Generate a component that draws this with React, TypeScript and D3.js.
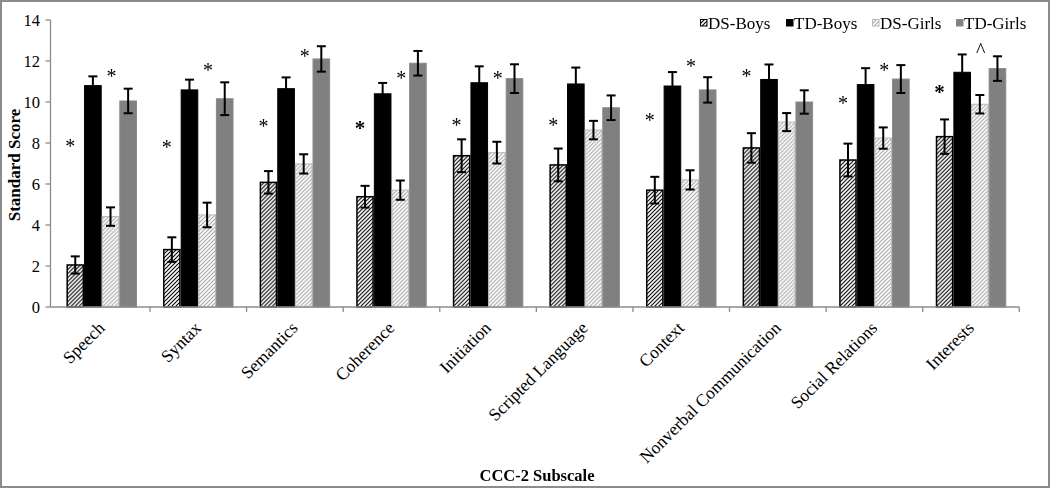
import React from "react";
import * as d3 from "d3";

const categories = [
  "Speech",
  "Syntax",
  "Semantics",
  "Coherence",
  "Initiation",
  "Scripted Language",
  "Context",
  "Nonverbal Communication",
  "Social Relations",
  "Interests",
];

const seriesNames = ["DS-Boys", "TD-Boys", "DS-Girls", "TD-Girls"];

const dsBoys = [2.05, 2.8, 6.08, 5.38, 7.38, 6.93, 5.7, 7.76, 7.17, 8.31];
const dsBoysErr = [0.42, 0.6, 0.55, 0.53, 0.8, 0.8, 0.65, 0.72, 0.8, 0.84];
const tdBoys = [10.8, 10.59, 10.65, 10.4, 10.94, 10.88, 10.78, 11.1, 10.85, 11.45];
const tdBoysErr = [0.45, 0.5, 0.55, 0.53, 0.8, 0.8, 0.68, 0.73, 0.8, 0.87];
const dsGirls = [4.41, 4.49, 6.98, 5.7, 7.53, 8.63, 6.2, 9.02, 8.24, 9.89];
const dsGirlsErr = [0.45, 0.6, 0.47, 0.47, 0.53, 0.45, 0.47, 0.44, 0.52, 0.45];
const tdGirls = [10.05, 10.16, 12.1, 11.89, 11.14, 9.72, 10.59, 10.0, 11.12, 11.63];
const tdGirlsErr = [0.6, 0.8, 0.62, 0.6, 0.7, 0.6, 0.62, 0.57, 0.68, 0.6];

const yTicks = [0, 2, 4, 6, 8, 10, 12, 14];

// significance markers: category, series they sit over, value (vertical centre), symbol, bold
const markCategory = [
  "Speech", "Speech", "Syntax", "Syntax", "Semantics", "Semantics",
  "Coherence", "Coherence", "Initiation", "Initiation", "Scripted Language",
  "Context", "Context", "Nonverbal Communication", "Social Relations",
  "Social Relations", "Interests", "Interests",
];
const markSeries = [
  "DS-Boys", "DS-Girls", "DS-Boys", "DS-Girls", "DS-Boys", "DS-Girls",
  "DS-Boys", "DS-Girls", "DS-Boys", "DS-Girls", "DS-Boys",
  "DS-Boys", "DS-Girls", "DS-Boys", "DS-Boys",
  "DS-Girls", "DS-Boys", "DS-Girls",
];
const markValue = [
  8.0, 11.41, 7.95, 11.7, 8.98, 12.39,
  8.88, 11.32, 9.02, 11.32, 9.02,
  9.27, 11.9, 11.41, 10.1,
  11.7, 10.63, 12.68,
];
const markSymbol = [
  "*", "*", "*", "*", "*", "*", "*", "*", "*", "*", "*",
  "*", "*", "*", "*", "*", "*", "^",
];
const markBold = [
  false, false, false, false, false, false,
  true, false, false, false, false,
  false, false, false, false,
  false, true, false,
];

const values = [dsBoys, tdBoys, dsGirls, tdGirls];
const errors = [dsBoysErr, tdBoysErr, dsGirlsErr, tdGirlsErr];

const W = 1050;
const H = 488;
const FONT = "'Liberation Serif', 'Times New Roman', serif";

export default function App() {
  const axisX = 50.5;
  const x0 = d3.scaleBand<string>().domain(categories).range([53.4, 1019.3]).padding(0);
  const bw = x0.bandwidth();
  const groupW = 70.5;
  const x1 = d3
    .scaleBand<string>()
    .domain(seriesNames)
    .range([(bw - groupW) / 2, (bw + groupW) / 2])
    .padding(0);
  const y = d3.scaleLinear().domain([0, 14]).range([307, 20]);
  const barW = x1.bandwidth();

  const fills: Record<string, string> = {
    "DS-Boys": "url(#hatchBlack)",
    "TD-Boys": "#000000",
    "DS-Girls": "url(#hatchGray)",
    "TD-Girls": "#808080",
  };
  const strokes: Record<string, string> = {
    "DS-Boys": "#000000",
    "TD-Boys": "#000000",
    "DS-Girls": "#b8b8b8",
    "TD-Girls": "#8a8a8a",
  };
  const strokeW: Record<string, number> = {
    "DS-Boys": 1.5,
    "TD-Boys": 1,
    "DS-Girls": 1,
    "TD-Girls": 1,
  };

  const boundaries = [53.4, ...categories.map((c) => (x0(c) as number) + bw)];

  const legendX = [700, 786, 872, 956];

  return (
    <svg
      width={W}
      height={H}
      style={{ position: "absolute", left: 0, top: 0, background: "#fff" }}
      fontFamily={FONT}
    >
      <defs>
        <pattern id="hatchBlack" patternUnits="userSpaceOnUse" width="4" height="4">
          <rect width="4" height="4" fill="#fff" />
          <path d="M-1,1 l2,-2 M0,4 l4,-4 M3,5 l2,-2" stroke="#000" strokeWidth="1.1" />
        </pattern>
        <pattern id="hatchGray" patternUnits="userSpaceOnUse" width="4" height="4">
          <rect width="4" height="4" fill="#fff" />
          <path d="M-1,1 l2,-2 M0,4 l4,-4 M3,5 l2,-2" stroke="#a6a6a6" strokeWidth="1.1" />
        </pattern>
      </defs>

      <rect x={1} y={1} width={W - 2} height={H - 2} fill="#fff" stroke="#8c8c8c" strokeWidth={2} />

      {/* y axis */}
      <line x1={axisX} x2={axisX} y1={y(14)} y2={y(0)} stroke="#8c8c8c" strokeWidth={1.3} />
      {yTicks.map((t) => (
        <g key={t}>
          <line x1={axisX - 5} x2={axisX} y1={y(t)} y2={y(t)} stroke="#8c8c8c" strokeWidth={1.3} />
          <text x={40} y={y(t)} dy="0.34em" textAnchor="end" fontSize={16.5} fill="#000">
            {t}
          </text>
        </g>
      ))}

      {/* bars */}
      {categories.map((c, i) => (
        <g key={c} transform={`translate(${x0(c)},0)`}>
          {seriesNames.map((s, k) => {
            const v = values[k][i];
            return (
              <rect
                key={s}
                x={(x1(s) as number) + strokeW[s] / 2}
                y={y(v)}
                width={barW - strokeW[s]}
                height={y(0) - y(v)}
                fill={fills[s]}
                stroke={strokes[s]}
                strokeWidth={strokeW[s]}
              />
            );
          })}
          {seriesNames.map((s, k) => {
            const v = values[k][i];
            const e = errors[k][i];
            const cx = (x1(s) as number) + barW / 2;
            return (
              <g key={s + "e"} stroke="#000" strokeWidth={2}>
                <line x1={cx} x2={cx} y1={y(v + e)} y2={y(v - e)} />
                <line x1={cx - 4.5} x2={cx + 4.5} y1={y(v + e)} y2={y(v + e)} />
                <line x1={cx - 4.5} x2={cx + 4.5} y1={y(v - e)} y2={y(v - e)} />
              </g>
            );
          })}
        </g>
      ))}

      {/* x axis */}
      <line x1={axisX} x2={boundaries[boundaries.length - 1]} y1={y(0)} y2={y(0)} stroke="#8c8c8c" strokeWidth={1.3} />
      {boundaries.slice(1).map((b, i) => (
        <line key={i} x1={b} x2={b} y1={y(0)} y2={y(0) + 5} stroke="#8c8c8c" strokeWidth={1.3} />
      ))}
      {categories.map((c) => {
        const cx = (x0(c) as number) + bw / 2;
        return (
          <text
            key={c}
            transform={`translate(${cx + 4},${329}) rotate(-45)`}
            textAnchor="end"
            fontSize={17.5}
            fill="#000"
          >
            {c}
          </text>
        );
      })}

      {/* markers */}
      <g style={{ willChange: "transform" }}>
        {markCategory.map((c, i) => {
          const s = markSeries[i];
          const dx = s === "DS-Boys" ? -5 : 1;
          const cx = (x0(c) as number) + (x1(s) as number) + barW / 2 + dx;
          const isCaret = markSymbol[i] === "^";
          return (
            <text
              key={i}
              x={cx}
              y={y(markValue[i])}
              dy={isCaret ? "0.5em" : "0.48em"}
              textAnchor="middle"
              fontSize={markBold[i] ? 21 : 20}
              fontWeight={markBold[i] ? "bold" : "normal"}
              fill="#000"
            >
              {markSymbol[i]}
            </text>
          );
        })}
      </g>

      {/* axis titles */}
      <text
        transform={`translate(20,165) rotate(-90)`}
        textAnchor="middle"
        fontSize={17}
        fontWeight="bold"
        fill="#000"
      >
        Standard Score
      </text>
      <text x={537} y={481} textAnchor="middle" fontSize={16.5} fontWeight="bold" fill="#000">
        CCC-2 Subscale
      </text>

      {/* legend */}
      {seriesNames.map((s, k) => (
        <g key={s}>
          <rect
            x={legendX[k] + 0.5}
            y={19.5}
            width={6.5}
            height={6.5}
            fill={fills[s]}
            stroke={strokes[s]}
            strokeWidth={1}
          />
          <text x={legendX[k] + 8} y={28.5} fontSize={17} fill="#000">
            {s}
          </text>
        </g>
      ))}
    </svg>
  );
}
